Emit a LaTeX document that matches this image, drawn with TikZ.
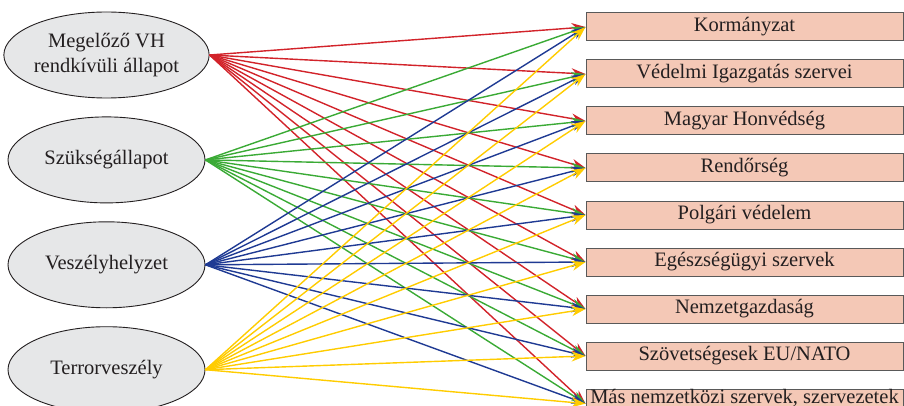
\documentclass[tikz,border=0pt]{standalone}
\usepackage{fontspec}
\setmainfont{Liberation Serif}
\usepackage{tikz}
\usetikzlibrary{arrows.meta, positioning, shapes.geometric}

\definecolor{vhred}{HTML}{D2232A}
\definecolor{vhgreen}{HTML}{3AAA35}
\definecolor{vhblue}{HTML}{1F3A93}
\definecolor{vhyellow}{HTML}{FFCC00}
\definecolor{statefill}{HTML}{E6E7E8}
\definecolor{orgfill}{HTML}{F4C8B6}
\definecolor{inktext}{HTML}{231F20}

\begin{document}
\begin{tikzpicture}[
    x=1pt, y=-1pt,
    node distance=18pt,
    state/.style={ellipse, draw=inktext, line width=0.9pt, fill=statefill, align=center, inner sep=0pt,
        minimum width=197pt, minimum height=86pt, text=inktext, font=\fontsize{20.5}{25}\selectfont},
    org/.style={rectangle, draw=black!65, line width=1pt, fill=orgfill, align=center, inner xsep=2pt,
        minimum width=317pt, minimum height=28pt, text=inktext, font=\fontsize{20.5}{24}\selectfont},
    arrow/.style={-{Stealth[length=14pt, width=10pt]}, line width=1.4pt}
]
\useasboundingbox (0,0) rectangle (904,406);

\node[state] (megelozo) at (106.5,55) {Megelőző VH\\rendkívüli állapot};
\node[state, below=of megelozo] (szukseg) {Szükségállapot};
\node[state, below=of szukseg] (veszely) {Veszélyhelyzet};
\node[state, below=of veszely] (terror) {Terrorveszély};

\node[org] (korm) at (744.5,27) {Kormányzat};
\node[org, below=of korm] (vedelmi) {Védelmi Igazgatás szervei};
\node[org, below=of vedelmi] (honved) {Magyar Honvédség};
\node[org, below=of honved] (rendor) {Rendőrség};
\node[org, below=of rendor] (polgari) {Polgári védelem};
\node[org, below=of polgari] (egeszseg) {Egészségügyi szervek};
\node[org, below=of egeszseg] (gazdasag) {Nemzetgazdaság};
\node[org, below=of gazdasag] (szovetseg) {Szövetségesek EU/NATO};
\node[org, below=of szovetseg, inner ysep=0pt, text depth=15pt] (nemzetkozi) {Más nemzetközi szervek, szervezetek};

\foreach \src/\col in {megelozo/vhred, szukseg/vhgreen, veszely/vhblue, terror/vhyellow}
  \foreach \dst in {korm, vedelmi, honved, rendor, polgari, egeszseg, gazdasag, szovetseg, nemzetkozi}
    \draw[arrow, \col] (\src.east) -- (\dst.west);
\end{tikzpicture}
\end{document}
